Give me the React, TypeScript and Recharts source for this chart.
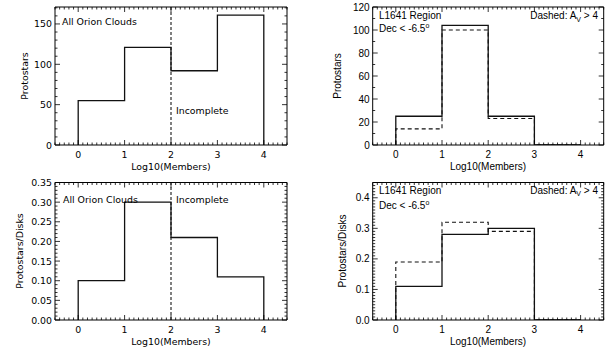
import React from 'react';
import { ComposedChart, Line, XAxis, YAxis, ReferenceLine } from 'recharts';

// ---------- data ----------
const binEdges = [0, 1, 2, 3, 4];
const xMajorTicks = [0, 1, 2, 3, 4];
const xTickLabels = ['0', '1', '2', '3', '4'];

const allOrionProtostars = [55, 121, 92, 161];
const allOrionRatio = [0.1, 0.3, 0.21, 0.11];
const l1641Protostars = [25, 104, 25, 0];
const l1641ProtostarsAv = [14, 100, 23, 0];
const l1641Ratio = [0.11, 0.28, 0.3, 0];
const l1641RatioAv = [0.19, 0.32, 0.29, 0];

const tlYTicks = [0, 50, 100, 150];
const tlYLabels = ['0', '50', '100', '150'];
const trYTicks = [0, 20, 40, 60, 80, 100, 120];
const trYLabels = ['0', '20', '40', '60', '80', '100', '120'];
const blYTicks = [0, 0.05, 0.1, 0.15, 0.2, 0.25, 0.3, 0.35];
const blYLabels = ['0.00', '0.05', '0.10', '0.15', '0.20', '0.25', '0.30', '0.35'];
const brYTicks = [0, 0.1, 0.2, 0.3, 0.4];
const brYLabels = ['0.0', '0.1', '0.2', '0.3', '0.4'];

// ---------- helpers ----------
function range(start: number, end: number, step: number): number[] {
  const out: number[] = [];
  const n = Math.round((end - start) / step);
  for (let i = 0; i <= n; i++) out.push(Math.round((start + i * step) * 1e6) / 1e6);
  return out;
}

function stepRows(edges: number[], series: Record<string, number[]>) {
  const keys = Object.keys(series);
  const rows: any[] = [];
  const first: any = { x: edges[0] };
  keys.forEach((k) => (first[k] = 0));
  rows.push(first);
  for (let i = 0; i < edges.length - 1; i++) {
    const r: any = { x: edges[i] };
    keys.forEach((k) => (r[k] = series[k][i]));
    rows.push(r);
  }
  const last: any = { x: edges[edges.length - 1] };
  keys.forEach((k) => (last[k] = 0));
  rows.push(last);
  return rows;
}

const xMinor = range(-0.5, 4.5, 0.1);

type Side = 'bottom' | 'top' | 'left' | 'right';

function makeTick(side: Side, majors: number[], labels: string[] | null, font: string, size: number) {
  return (props: any) => {
    const { x, y, payload } = props;
    const v = payload.value;
    const idx = majors.findIndex((m) => Math.abs(m - v) < 1e-7);
    const isMajor = idx >= 0;
    const len = isMajor ? 5 : 2.5;
    let line;
    if (side === 'bottom') line = <line x1={x} x2={x} y1={y} y2={y - len} stroke="#000" strokeWidth={0.8} />;
    else if (side === 'top') line = <line x1={x} x2={x} y1={y} y2={y + len} stroke="#000" strokeWidth={0.8} />;
    else if (side === 'left') line = <line x1={x} x2={x + len} y1={y} y2={y} stroke="#000" strokeWidth={0.8} />;
    else line = <line x1={x} x2={x - len} y1={y} y2={y} stroke="#000" strokeWidth={0.8} />;
    let label = null;
    if (isMajor && labels) {
      if (side === 'bottom')
        label = (
          <text x={x} y={y + 12.5} textAnchor="middle" fontFamily={font} fontSize={size} fill="#000">
            {labels[idx]}
          </text>
        );
      else if (side === 'left')
        label = (
          <text x={x - 3} y={y + 3.5} textAnchor="end" fontFamily={font} fontSize={size} fill="#000">
            {labels[idx]}
          </text>
        );
    }
    return (
      <g>
        {line}
        {label}
      </g>
    );
  };
}

const LEFT_FONT = 'DejaVu Sans';
const RIGHT_FONT = 'Liberation Sans';

type PanelProps = {
  left: number;
  top: number;
  margin: { top: number; right: number; bottom: number; left: number };
  rows: any[];
  series: { key: string; dashed: boolean }[];
  yDomain: [number, number];
  yMajors: number[];
  yLabels: string[];
  yMinorStep: number;
  font: string;
  size: number;
  incompleteLine?: boolean;
};

function Panel(p: PanelProps) {
  const yMinor = range(p.yDomain[0], p.yDomain[1], p.yMinorStep).filter((v) => v <= p.yDomain[1] + 1e-9);
  const axisLine = { stroke: '#000', strokeWidth: 1 };
  const m = p.margin;
  return (
    <div style={{ position: 'absolute', left: p.left, top: p.top, width: 306, height: 174 }}>
      <ComposedChart width={306} height={174} data={p.rows} margin={{ top: 0, right: 0, bottom: 0, left: 0 }}>
        <XAxis
          xAxisId="b"
          dataKey="x"
          type="number"
          orientation="bottom"
          domain={[-0.5, 4.5]}
          allowDataOverflow
          ticks={xMinor}
          interval={0}
          height={m.bottom}
          tickSize={0}
          tickMargin={0}
          tickLine={false}
          axisLine={axisLine}
          tick={makeTick('bottom', xMajorTicks, xTickLabels, p.font, p.size)}
        />
        <XAxis
          xAxisId="t"
          dataKey="x"
          type="number"
          orientation="top"
          domain={[-0.5, 4.5]}
          allowDataOverflow
          ticks={xMinor}
          interval={0}
          height={m.top}
          tickSize={0}
          tickMargin={0}
          tickLine={false}
          axisLine={axisLine}
          tick={makeTick('top', xMajorTicks, null, p.font, p.size)}
        />
        <YAxis
          yAxisId="l"
          type="number"
          orientation="left"
          domain={p.yDomain}
          allowDataOverflow
          ticks={yMinor}
          interval={0}
          width={m.left}
          tickSize={0}
          tickMargin={0}
          tickLine={false}
          axisLine={axisLine}
          tick={makeTick('left', p.yMajors, p.yLabels, p.font, p.size)}
        />
        <YAxis
          yAxisId="r"
          type="number"
          orientation="right"
          domain={p.yDomain}
          allowDataOverflow
          ticks={yMinor}
          interval={0}
          width={m.right}
          tickSize={0}
          tickMargin={0}
          tickLine={false}
          axisLine={axisLine}
          tick={makeTick('right', p.yMajors, null, p.font, p.size)}
        />
        {p.incompleteLine && (
          <ReferenceLine x={2} xAxisId="b" yAxisId="l" stroke="#000" strokeWidth={1} strokeDasharray="3 2" />
        )}
        {p.series.map((s) => (
          <Line
            key={s.key}
            xAxisId="b"
            yAxisId="l"
            dataKey={s.key}
            type="stepAfter"
            stroke="#111"
            strokeWidth={s.dashed ? 1.1 : 1.3}
            strokeDasharray={s.dashed ? '4 3' : undefined}
            dot={false}
            activeDot={false}
            isAnimationActive={false}
          />
        ))}
      </ComposedChart>
    </div>
  );
}

const tlRows = stepRows(binEdges, { n: allOrionProtostars });
const blRows = stepRows(binEdges, { n: allOrionRatio });
const trRows = stepRows(binEdges, { n: l1641Protostars, d: l1641ProtostarsAv });
const brRows = stepRows(binEdges, { n: l1641Ratio, d: l1641RatioAv });

export default function App() {
  const lt = { fontFamily: LEFT_FONT, fontSize: 9.4, fill: '#000' } as any;
  const rt = { fontFamily: RIGHT_FONT, fontSize: 10, fill: '#000' } as any;
  return (
    <div style={{ position: 'fixed', left: 0, top: 0, width: 612, height: 348, background: '#fff', overflow: 'hidden' }}>
      <Panel
        left={0}
        top={0}
        margin={{ top: 7, right: 19, bottom: 29, left: 55 }}
        rows={tlRows}
        series={[{ key: 'n', dashed: false }]}
        yDomain={[0, 171]}
        yMajors={tlYTicks}
        yLabels={tlYLabels}
        yMinorStep={10}
        font={LEFT_FONT}
        size={9.4}
        incompleteLine
      />
      <Panel
        left={306}
        top={0}
        margin={{ top: 7, right: 8.3, bottom: 29, left: 66.7 }}
        rows={trRows}
        series={[
          { key: 'n', dashed: false },
          { key: 'd', dashed: true },
        ]}
        yDomain={[0, 120]}
        yMajors={trYTicks}
        yLabels={trYLabels}
        yMinorStep={10}
        font={RIGHT_FONT}
        size={10}
      />
      <Panel
        left={0}
        top={174}
        margin={{ top: 8.5, right: 19, bottom: 28, left: 55 }}
        rows={blRows}
        series={[{ key: 'n', dashed: false }]}
        yDomain={[0, 0.35]}
        yMajors={blYTicks}
        yLabels={blYLabels}
        yMinorStep={0.01}
        font={LEFT_FONT}
        size={9.4}
        incompleteLine
      />
      <Panel
        left={306}
        top={174}
        margin={{ top: 8.5, right: 8.3, bottom: 28, left: 66.7 }}
        rows={brRows}
        series={[
          { key: 'n', dashed: false },
          { key: 'd', dashed: true },
        ]}
        yDomain={[0, 0.45]}
        yMajors={brYTicks}
        yLabels={brYLabels}
        yMinorStep={0.01}
        font={RIGHT_FONT}
        size={10}
      />
      <svg width={612} height={348} style={{ position: 'absolute', left: 0, top: 0, pointerEvents: 'none' }}>
        {/* top-left */}
        <text x={62} y={24.5} {...lt}>All Orion Clouds</text>
        <text x={176} y={113.5} {...lt}>Incomplete</text>
        <text x={171} y={169.5} textAnchor="middle" {...lt}>Log10(Members)</text>
        <text transform="translate(28,76) rotate(-90)" textAnchor="middle" {...lt}>Protostars</text>
        {/* bottom-left */}
        <text x={63} y={202.5} {...lt}>All Orion Clouds</text>
        <text x={176} y={202.5} {...lt}>Incomplete</text>
        <text x={171} y={344.5} textAnchor="middle" {...lt}>Log10(Members)</text>
        <text transform="translate(23,251) rotate(-90)" textAnchor="middle" {...lt}>Protostars/Disks</text>
        {/* top-right */}
        <text x={379} y={19} {...rt}>L1641 Region</text>
        <text x={379} y={31.5} {...rt}>
          Dec &lt; -6.5<tspan fontSize={7} dy={-4}>o</tspan>
        </text>
        <text x={598} y={19} textAnchor="end" {...rt}>
          Dashed: A<tspan fontSize={7} dy={2.5}>V</tspan>
          <tspan dy={-2.5}> &gt; 4</tspan>
        </text>
        <text x={488} y={169.5} textAnchor="middle" {...rt}>Log10(Members)</text>
        <text transform="translate(341,76) rotate(-90)" textAnchor="middle" {...rt}>Protostars</text>
        {/* bottom-right */}
        <text x={379} y={193.6} {...rt}>L1641 Region</text>
        <text x={379} y={209.3} {...rt}>
          Dec &lt; -6.5<tspan fontSize={7} dy={-4}>o</tspan>
        </text>
        <text x={598} y={193.6} textAnchor="end" {...rt}>
          Dashed: A<tspan fontSize={7} dy={2.5}>V</tspan>
          <tspan dy={-2.5}> &gt; 4</tspan>
        </text>
        <text x={488} y={344.5} textAnchor="middle" {...rt}>Log10(Members)</text>
        <text transform="translate(346,251) rotate(-90)" textAnchor="middle" {...rt}>Protostars/Disks</text>
      </svg>
    </div>
  );
}
